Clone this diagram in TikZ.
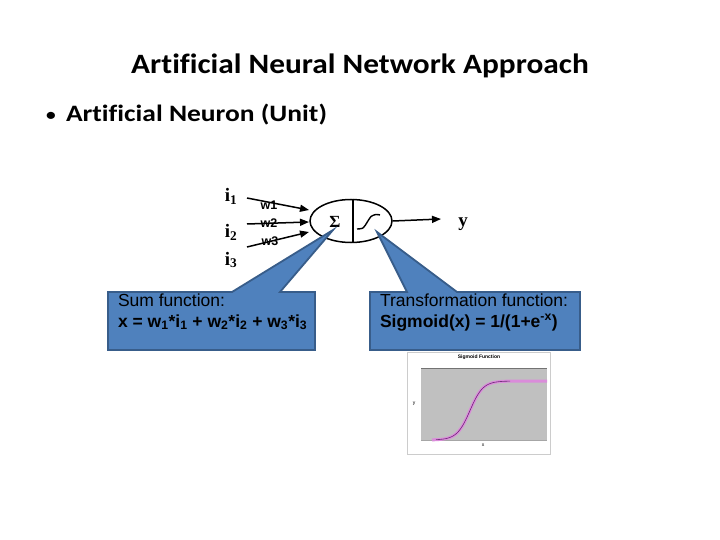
\documentclass[tikz,border=0pt]{standalone}
\usepackage{fontspec}
\setmainfont{Carlito}[Ligatures=NoCommon]
\newfontfamily\arialf{Liberation Sans}
\newfontfamily\tnrf{Liberation Serif}
\usetikzlibrary{shapes.geometric,arrows.meta}
\definecolor{calloutfill}{RGB}{79,129,189}
\definecolor{calloutedge}{RGB}{56,93,138}
\definecolor{plotgray}{RGB}{192,192,192}
\definecolor{sigpink}{RGB}{218,140,218}
\definecolor{sigdark}{RGB}{110,40,120}
\tikzset{
  txt/.style={inner sep=0pt, outer sep=0pt},
  inlabel/.style={txt, font=\tnrf\bfseries\fontsize{19}{22}\selectfont},
  wlabel/.style={txt, font=\arialf\bfseries\fontsize{12.5}{14}\selectfont},
  callout/.style={fill=calloutfill, draw=calloutedge, line width=1.8pt, line join=miter},
  calltxt/.style={txt, anchor=base west, font=\arialf\fontsize{17.5}{20}\selectfont},
  inarrow/.style={line width=1.5pt, -{Triangle[length=9pt,width=7pt]}},
  tiny/.style={txt, font=\arialf\fontsize{5}{6}\selectfont}
}
\begin{document}
\begin{tikzpicture}[x=1pt,y=-1pt]
\useasboundingbox (0,0) rectangle (720,540);
% title
\node[txt, anchor=base, xscale=1.12, font=\bfseries\fontsize{28}{32}\selectfont] (title) at (360,74) {Artificial Neural Network Approach};
\node[txt, anchor=base west, xscale=1.17, font=\bfseries\fontsize{23.5}{28}\selectfont] (bullet) at (45,121.5) {{\mdseries\fontsize{20}{24}\selectfont•}\hspace{8pt}Artificial Neuron (Unit)};
% inputs
\node[inlabel] (i1) at (231,196) {i\textsubscript{1}};
\node[inlabel] (i2) at (231,232) {i\textsubscript{2}};
\node[inlabel] (i3) at (231,260) {i\textsubscript{3}};
% neuron
\node[draw, ellipse, line width=1.5pt, minimum width=82pt, minimum height=43pt, inner sep=0pt] (neuron) at (351,221) {};
\draw[line width=1.5pt] ([xshift=2pt]neuron.north) -- ([xshift=2pt]neuron.south);
\node[txt, font=\tnrf\bfseries\fontsize{17}{19}\selectfont] (sigma) at (335,222) {Σ};
\draw[line width=1.4pt] plot[smooth] coordinates {(357,229) (363,228) (367,222.5) (371,216.5) (376,214.5) (380,215)};
% input arrows
\coordinate (a1s) at (247,198); \coordinate (a1e) at (309,210);
\coordinate (a2s) at (247,224); \coordinate (a2e) at (309,222);
\coordinate (a3s) at (247,247); \coordinate (a3e) at (309,232);
\draw[inarrow] (a1s) -- (a1e);
\draw[inarrow] (a2s) -- (a2e);
\draw[inarrow] (a3s) -- (a3e);
\node[wlabel] (w1) at (269,205) {w1};
\node[wlabel] (w2) at (269,223) {w2};
\node[wlabel] (w3) at (270,241) {w3};
% output
\coordinate (outtip) at (441,219);
\draw[inarrow] (neuron.east) -- (outtip);
\node[inlabel] (y) at (463,224) {y};
% left callout
\draw[callout] (108,292) -- (232,292) -- (333,230) -- (280,292) -- (315,292) -- (315,350) -- (108,350) -- cycle;
\node[calltxt] (sumA) at (118,306) {Sum function:};
\node[calltxt, font=\arialf\bfseries\fontsize{17.5}{20}\selectfont] (sumB) at (118,327) {x = w\textsubscript{1}*i\textsubscript{1} + w\textsubscript{2}*i\textsubscript{2} + w\textsubscript{3}*i\textsubscript{3}};
% right callout
\draw[callout] (370,292) -- (407,292) -- (377,232) -- (457,292) -- (580,292) -- (580,350) -- (370,350) -- cycle;
\node[calltxt] (trA) at (380,306) {Transformation function:};
\node[calltxt, font=\arialf\bfseries\fontsize{17.5}{20}\selectfont] (trB) at (380,327) {Sigmoid(x) = 1/(1+e\textsuperscript{-x})};
% sigmoid chart
\draw[draw=black!20, fill=white, line width=0.8pt] (407,352) rectangle (550,454);
\draw[fill=plotgray, draw=none] (421,368) rectangle (547,440);
\draw[black!55, line width=0.8pt] (421,368) -- (547,368);
\draw[black!35, line width=0.5pt] (421,440) -- (547,440);
\draw[sigpink, line width=3pt] plot[domain=432:547, samples=80, smooth] (\x, {440 - 59/(1+exp(-(\x-470)/6.5))});
\draw[sigdark, line width=0.6pt] plot[domain=436:510, samples=60, smooth] (\x, {440 - 59/(1+exp(-(\x-470)/6.5))});
\node[tiny, font=\arialf\bfseries\fontsize{5}{6}\selectfont] (ctitle) at (479,357) {Sigmoid Function};
\node[tiny] (cy) at (414,404) {y};
\node[tiny] (cx) at (483,445) {x};
\end{tikzpicture}
\end{document}
